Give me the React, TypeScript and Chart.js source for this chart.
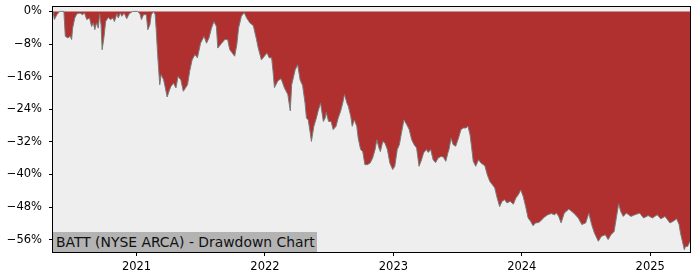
import React, { useEffect, useRef } from "react";
import { Chart, registerables } from "chart.js";

Chart.register(...registerables);

const dates: string[] = [
  "2020-05-08","2020-05-12","2020-05-19","2020-05-27","2020-06-08","2020-06-12","2020-06-19","2020-06-26","2020-06-30","2020-07-03",
  "2020-07-09","2020-07-15","2020-07-24","2020-07-31","2020-08-06","2020-08-12","2020-08-20","2020-08-26","2020-08-31","2020-09-04",
  "2020-09-09","2020-09-14","2020-09-18","2020-09-22","2020-09-25","2020-09-30","2020-10-05","2020-10-12","2020-10-19","2020-10-26",
  "2020-10-30","2020-11-06","2020-11-10","2020-11-16","2020-11-20","2020-11-27","2020-12-04","2020-12-11","2020-12-21","2021-01-04",
  "2021-01-11","2021-01-15","2021-01-21","2021-01-29","2021-02-02","2021-02-08","2021-02-12","2021-02-19","2021-02-23","2021-02-26",
  "2021-03-02","2021-03-08","2021-03-12","2021-03-19","2021-03-23","2021-03-29","2021-04-05","2021-04-09","2021-04-16","2021-04-23",
  "2021-04-29","2021-05-07","2021-05-14","2021-05-26","2021-06-01","2021-06-08","2021-06-16","2021-06-23","2021-07-02","2021-07-12",
  "2021-07-19","2021-07-26","2021-08-02","2021-08-09","2021-08-16","2021-08-20","2021-08-31","2021-09-09","2021-09-17","2021-09-23",
  "2021-09-30","2021-10-07","2021-10-13","2021-10-18","2021-10-26","2021-11-03","2021-11-10","2021-11-19","2021-11-29","2021-12-08",
  "2021-12-13","2021-12-22","2022-01-03","2022-01-07","2022-01-13","2022-01-20","2022-01-24","2022-01-28","2022-02-07","2022-02-16",
  "2022-02-25","2022-03-07","2022-03-14","2022-03-18","2022-03-28","2022-04-04","2022-04-11","2022-04-18","2022-04-25","2022-04-29",
  "2022-05-04","2022-05-09","2022-05-13","2022-05-20","2022-05-27","2022-06-01","2022-06-08","2022-06-16","2022-06-21","2022-06-24",
  "2022-07-01","2022-07-08","2022-07-14","2022-07-22","2022-07-28","2022-08-04","2022-08-10","2022-08-15","2022-08-22","2022-08-26",
  "2022-09-02","2022-09-06","2022-09-12","2022-09-19","2022-09-23","2022-09-30","2022-10-06","2022-10-12","2022-10-19","2022-10-27",
  "2022-11-03","2022-11-10","2022-11-15","2022-11-21","2022-11-25","2022-12-02","2022-12-08","2022-12-15","2022-12-22","2022-12-30",
  "2023-01-05","2023-01-12","2023-01-18","2023-01-24","2023-01-31","2023-02-08","2023-02-15","2023-02-22","2023-03-01","2023-03-08",
  "2023-03-15","2023-03-22","2023-03-28","2023-04-05","2023-04-10","2023-04-17","2023-04-24","2023-05-01","2023-05-08","2023-05-16",
  "2023-05-23","2023-05-30","2023-06-05","2023-06-08","2023-06-14","2023-06-20","2023-06-27","2023-07-05","2023-07-12","2023-07-19",
  "2023-07-26","2023-08-01","2023-08-07","2023-08-11","2023-08-16","2023-08-23","2023-08-31","2023-09-07","2023-09-18","2023-09-25",
  "2023-10-02","2023-10-09","2023-10-16","2023-10-23","2023-10-30","2023-11-06","2023-11-13","2023-11-20","2023-11-29","2023-12-08",
  "2023-12-15","2023-12-22","2023-12-29","2024-01-05","2024-01-12","2024-01-19","2024-01-26","2024-02-02","2024-02-09","2024-02-19",
  "2024-02-27","2024-03-05","2024-03-15","2024-03-25","2024-04-03","2024-04-09","2024-04-15","2024-04-22","2024-05-01","2024-05-14",
  "2024-05-28","2024-06-10","2024-06-20","2024-07-01","2024-07-10","2024-07-18","2024-07-26","2024-08-06","2024-08-15","2024-08-26",
  "2024-09-03","2024-09-11","2024-09-20","2024-09-27","2024-10-03","2024-10-09","2024-10-16","2024-10-25","2024-11-07","2024-11-18",
  "2024-12-02","2024-12-13","2024-12-26","2025-01-07","2025-01-21","2025-01-31","2025-02-12","2025-02-26","2025-03-07","2025-03-17",
  "2025-03-24","2025-03-28","2025-04-08","2025-04-11","2025-04-17","2025-04-24",
];

const drawdown: number[] = [
  0, -2.0, -0.8, 0, 0, -6.1, -6.5, -6.1, -6.9, -4.1,
  -1.6, -0.6, -0.4, -0.8, -0.4, -2.0, -1.6, -3.7, -2.8, -4.5,
  -2.8, -4.1, -0.6, -3.3, -9.4, -6.5, -2.5, -1.5, -2.0, -1.6,
  -2.5, -0.6, -1.6, -0.4, -1.2, -0.4, -1.8, -0.6, 0, 0,
  -0.6, -2.0, -0.8, -0.8, -4.5, -3.3, -0.8, 0, -0.8, -4.5,
  -10.6, -18.0, -15.5, -16.8, -18.4, -21.0, -19.2, -18.4, -17.6, -18.8,
  -16.0, -16.8, -19.6, -18.0, -14.7, -11.9, -10.6, -11.4, -7.8, -6.1,
  -7.8, -6.5, -4.1, -2.5, -3.7, -9.0, -7.8, -6.9, -6.9, -9.4,
  -10.2, -11.0, -8.2, -4.1, -1.2, -0.3, -1.6, -2.8, -3.5, -6.9,
  -9.0, -11.9, -10.6, -10.2, -11.4, -11.4, -14.7, -18.7, -17.0, -16.5,
  -18.7, -20.4, -24.4, -18.0, -14.3, -13.1, -16.8, -18.2, -22.5, -26.2,
  -26.6, -29.4, -31.9, -28.2, -26.2, -24.5, -22.5, -27.0, -26.2, -24.8,
  -27.0, -27.0, -29.0, -28.2, -26.2, -24.5, -22.5, -20.4, -22.5, -23.3,
  -25.8, -28.2, -26.6, -28.2, -31.1, -33.9, -34.4, -37.6, -37.6, -37.2,
  -36.0, -33.9, -31.5, -33.5, -34.4, -31.9, -32.3, -33.9, -37.2, -38.8,
  -38.0, -33.9, -32.7, -29.8, -26.6, -27.8, -29.0, -31.5, -32.7, -33.5,
  -38.0, -36.4, -34.7, -33.9, -34.6, -33.9, -36.4, -37.1, -36.0, -35.6,
  -35.7, -36.8, -34.7, -33.9, -31.1, -32.7, -33.1, -31.1, -29.0, -28.6,
  -28.6, -28.2, -30.3, -33.1, -36.8, -38.0, -36.4, -37.2, -37.9, -40.1,
  -41.7, -42.5, -43.3, -45.8, -47.9, -46.6, -46.2, -47.0, -46.6, -47.3,
  -45.8, -45.0, -43.8, -45.4, -47.9, -50.7, -51.5, -52.6, -51.9, -51.8,
  -51.1, -50.5, -49.9, -49.6, -49.9, -49.5, -50.3, -51.9, -49.5, -48.5,
  -49.5, -50.7, -52.3, -51.9, -49.5, -52.3, -54.4, -56.4, -55.2, -54.8,
  -56.0, -54.8, -54.0, -50.3, -47.2, -49.1, -50.3, -49.5, -50.3, -49.9,
  -49.5, -50.7, -50.1, -50.7, -49.9, -50.9, -50.3, -51.9, -51.5, -50.9,
  -52.3, -54.4, -58.5, -57.7, -57.7, -56.4,
];

const yTicks: number[] = [0, -8, -16, -24, -32, -40, -48, -56];
const xTicks: number[] = [2021, 2022, 2023, 2024, 2025];
const yMin = -59.04;
const yMax = 1.08;
const titleText = "BATT (NYSE ARCA) - Drawdown Chart";

function toYear(s: string): number {
  const [y, m, d] = s.split("-").map(Number);
  const t = Date.UTC(y, m - 1, d);
  const t0 = Date.UTC(y, 0, 1);
  const t1 = Date.UTC(y + 1, 0, 1);
  return y + (t - t0) / (t1 - t0);
}

const frameAndBg = {
  id: "frameAndBg",
  beforeDatasetsDraw(chart: any) {
    const { ctx, chartArea: a } = chart;
    ctx.save();
    ctx.fillStyle = "#eeeeee";
    ctx.fillRect(a.left, a.top, a.right - a.left, a.bottom - a.top);
    ctx.restore();
  },
  afterDraw(chart: any) {
    const { ctx, chartArea: a } = chart;
    ctx.save();
    ctx.strokeStyle = "#000";
    ctx.lineWidth = 1;
    ctx.strokeRect(Math.round(a.left) - 0.5, Math.round(a.top) - 0.5, Math.round(a.right - a.left) + 1, Math.round(a.bottom - a.top) + 1);
    ctx.restore();
  },
};

export default function App() {
  const ref = useRef<HTMLCanvasElement | null>(null);
  useEffect(() => {
    if (!ref.current) return;
    const pts = dates.map((d, i) => ({ x: toYear(d), y: drawdown[i] }));
    const font = { family: "'DejaVu Sans', sans-serif", size: 11.5 };
    const chart = new Chart(ref.current, {
      type: "line",
      data: {
        datasets: [
          {
            data: pts,
            borderColor: "#7a7a7a",
            borderWidth: 1,
            backgroundColor: "#b03030",
            fill: "origin",
            pointRadius: 0,
            tension: 0,
          },
        ],
      },
      options: {
        animation: false,
        responsive: false,
        devicePixelRatio: 1,
        layout: { padding: { top: 7, right: 10, left: 0, bottom: 0 } },
        plugins: { legend: { display: false }, tooltip: { enabled: false }, title: { display: false } },
        scales: {
          x: {
            type: "linear",
            min: toYear(dates[0]),
            max: toYear(dates[dates.length - 1]),
            afterFit: (s: any) => {
              s.height = 28;
              s.paddingLeft = 0;
              s.paddingRight = 0;
            },
            afterBuildTicks: (s: any) => { s.ticks = xTicks.map((v) => ({ value: v })); },
            ticks: { font, color: "#000", padding: 4, maxRotation: 0, autoSkip: false, callback: (v: any) => String(v) },
            grid: { display: true, drawOnChartArea: false, drawTicks: true, tickLength: 4, color: "#000" },
            border: { display: false },
          },
          y: {
            type: "linear",
            min: yMin,
            max: yMax,
            afterFit: (s: any) => {
              s.width = 53;
              s.paddingTop = 0;
              s.paddingBottom = 0;
            },
            afterBuildTicks: (s: any) => { s.ticks = yTicks.map((v) => ({ value: v })); },
            ticks: {
              font,
              color: "#000",
              padding: 7,
              autoSkip: false,
              callback: (v: any) => (v < 0 ? "\u2212" + Math.abs(v) : String(v)) + "%",
            },
            grid: { display: true, drawOnChartArea: false, drawTicks: true, tickLength: 4, color: "#000" },
            border: { display: false },
          },
        },
      },
      plugins: [frameAndBg],
    });
    return () => chart.destroy();
  }, []);

  return (
    <div style={{ position: "absolute", left: 0, top: 0, width: 700, height: 280, background: "#fff" }}>
      <canvas ref={ref} width={700} height={280} style={{ display: "block" }} />
      <div
        style={{
          position: "absolute",
          left: 53,
          top: 232,
          width: 264,
          height: 20,
          background: "#b3b3b3",
          fontFamily: "'DejaVu Sans', sans-serif",
          fontSize: 13.9,
          lineHeight: "20px",
          color: "#111",
          paddingLeft: 3,
          boxSizing: "border-box",
          whiteSpace: "nowrap",
        }}
      >
        {titleText}
      </div>
    </div>
  );
}
